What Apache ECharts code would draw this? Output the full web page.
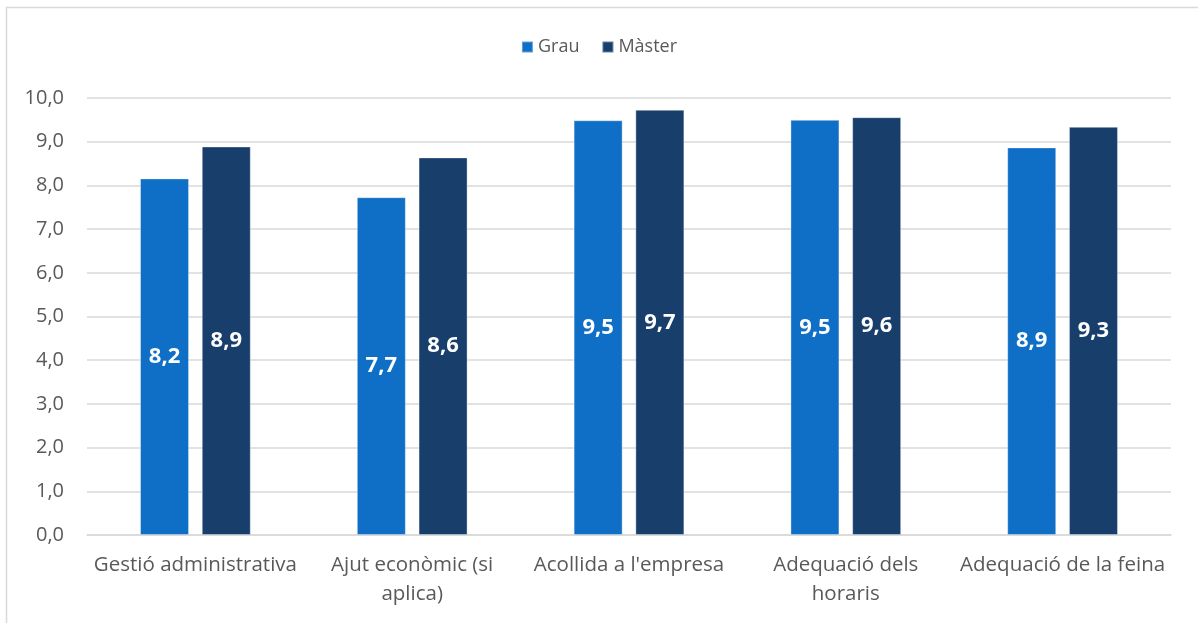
<!DOCTYPE html>
<html>
<head>
<meta charset="utf-8">
<script src="https://cdn.jsdelivr.net/npm/echarts@6/dist/echarts.min.js"></script>
<style>
  html, body { margin: 0; padding: 0; background: #fff; }
  #chart { width: 1198px; height: 623px; }
</style>
</head>
<body>
<div id="chart"></div>
<script>
// categories (x axis)
const categories = ['Gestió administrativa', 'Ajut econòmic (si\naplica)', "Acollida a l'empresa", 'Adequació dels\nhoraris', 'Adequació de la feina']
// series values
const grau = [8.16, 7.73, 9.49, 9.50, 8.87]
const master = [8.89, 8.64, 9.73, 9.56, 9.34]
const seriesNames = ['Grau', 'Màster']

const FONT = '"Open Sans", "Noto Sans", sans-serif'
const fmt = v => v.toFixed(1).replace('.', ',')

const myChart = echarts.init(document.getElementById('chart'))
const option = {
  animation: false,
  color: ['#0F6FC6', '#183F6C'],
  textStyle: { fontFamily: FONT },
  graphic: [{
    type: 'rect',
    shape: { x: 6.5, y: 7.5, width: 1300, height: 700 },
    style: { fill: 'none', stroke: '#d9d9d9', lineWidth: 1.5 },
    silent: true
  }],
  legend: {
    top: 33,
    left: 'center',
    itemWidth: 11,
    itemHeight: 11,
    itemGap: 22,
    icon: 'rect',
    textStyle: { fontSize: 18, color: '#595959', fontFamily: FONT }
  },
  grid: { left: 87, right: 27, top: 98, bottom: 88 },
  xAxis: {
    type: 'category',
    data: categories,
    axisLine: { lineStyle: { color: '#d9d9d9', width: 1.5 } },
    axisTick: { show: false },
    axisLabel: { fontSize: 20.5, color: '#595959', margin: 16, lineHeight: 29, interval: 0 }
  },
  yAxis: {
    type: 'value',
    min: 0,
    max: 10,
    interval: 1,
    axisLine: { show: false },
    axisTick: { show: false },
    splitLine: { lineStyle: { color: '#d9d9d9', width: 1.5 } },
    axisLabel: { fontSize: 20, color: '#595959', margin: 23, formatter: v => fmt(v) }
  },
  series: seriesNames.map((name, i) => ({
    name: name,
    type: 'bar',
    data: i === 0 ? grau : master,
    barWidth: 49,
    barGap: '26%',
    itemStyle: { borderColor: 'rgba(255,255,255,0.35)', borderWidth: 1 },
    label: {
      show: true,
      position: 'inside',
      color: '#fff',
      fontWeight: 'bold',
      fontSize: 22,
      fontFamily: FONT,
      formatter: p => fmt(p.value)
    }
  }))
}
myChart.setOption(option, true)
</script>
</body>
</html>
